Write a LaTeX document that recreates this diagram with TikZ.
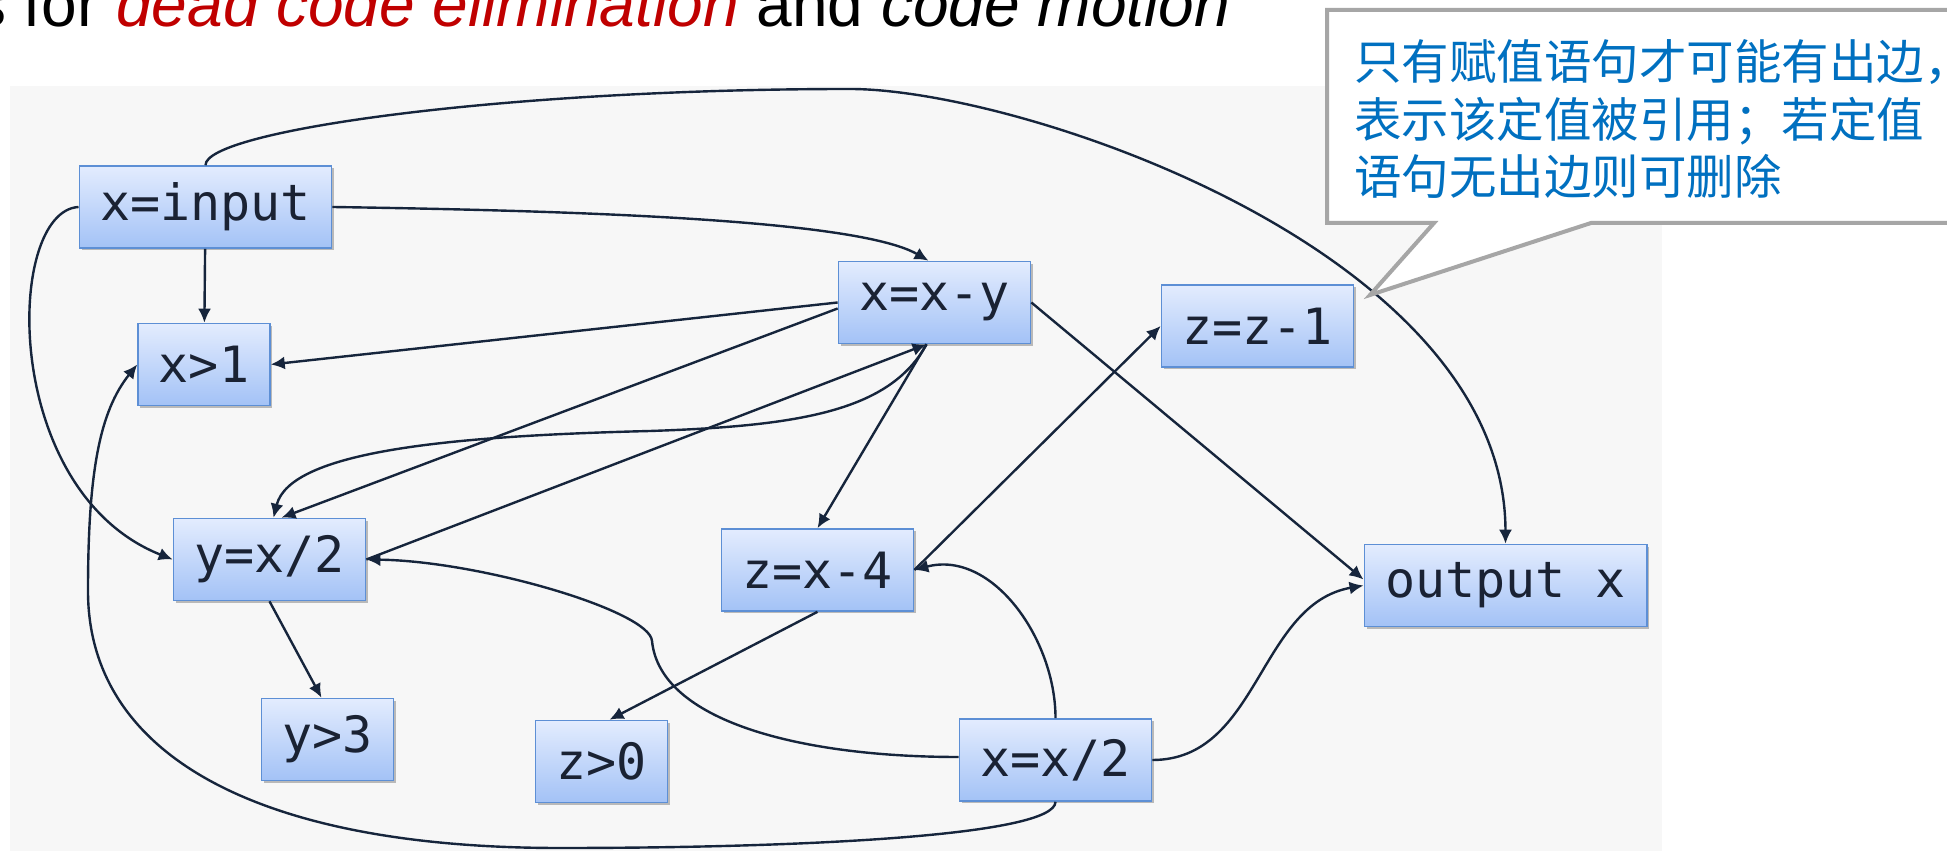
\documentclass[tikz,border=0pt]{standalone}
\usepackage{fontspec}
\setmainfont{Liberation Sans}
\newfontfamily\codefont{DejaVu Sans Mono}
\newfontfamily\cjk{Noto Sans CJK SC}
\usetikzlibrary{arrows.meta,shadows}
\definecolor{edgecol}{HTML}{16253C}
\definecolor{stmtline}{HTML}{5D8FD5}
\definecolor{stmttop}{HTML}{E3ECFE}
\definecolor{stmtbot}{HTML}{A3C2F6}
\definecolor{stmttext}{HTML}{1A2233}
\definecolor{panel}{HTML}{F7F7F7}
\definecolor{titlered}{HTML}{C00000}
\definecolor{notegray}{HTML}{A6A6A6}
\definecolor{noteblue}{HTML}{0070C0}

\begin{document}
\begin{tikzpicture}[x=0.5pt,y=0.5pt,
    stmt/.style={draw=stmtline,line width=0.8pt,top color=stmttop,bottom color=stmtbot,
        minimum height=41pt,inner xsep=10.4pt,inner ysep=0pt,text=stmttext,
        font=\codefont\fontsize{25}{30}\selectfont,
        drop shadow={shadow xshift=1.2pt,shadow yshift=-1.2pt,opacity=0.25,fill=black}},
    du/.style={draw=edgecol,line width=1.2pt,-{Latex[length=7pt,width=6.5pt]}},
    note/.style={anchor=base west,text=noteblue,font=\cjk\fontsize{23.75}{28.5}\selectfont}]
    \useasboundingbox (0,0) rectangle (1947,851);
    \clip (0,0) rectangle (1947,851);
    \fill[panel] (10,0) rectangle (1662,765);

    \node[anchor=base east,font=\fontsize{32}{38}\selectfont] (title) at (1237,824)
        {s for \textcolor{titlered}{\itshape dead code elimination} and {\itshape code motion}};

    % statements
    \node[stmt] (xin) at (205.5,644) {x=input};
    \node[stmt] (xg1) at (204,486.5) {x>1};
    \node[stmt] (xxy) at (934.5,548.5) {x=x-y};
    \node[stmt] (zz1) at (1257.5,525) {z=z-1};
    \node[stmt] (yx2) at (269.5,291.5) {y=x/2};
    \node[stmt] (zx4) at (817.5,281) {z=x-4};
    \node[stmt] (outx) at (1505.5,265.5) {output x};
    \node[stmt] (yg3) at (327.5,111.5) {y>3};
    \node[stmt] (zg0) at (601.5,89.5) {z>0};
    \node[stmt] (xx2) at (1055.5,91) {x=x/2};

    % du-chains
    \draw[du] (xin) -- (xg1);
    \draw[du] (xin.east) .. controls (600,640) and (860,630) .. ([xshift=-3pt]xxy.north);
    \draw[du] (xin.north) .. controls (205,720) and (500,762) .. (850,762)
        .. controls (1020,762) and (1505,600) .. (outx.north);
    \draw[du] (xin.west) .. controls (5,640) and (0,360) .. (yx2.west);
    \draw[du] (xxy.west) -- (xg1.east);
    \draw[du] ([yshift=-3pt]xxy.west) -- ([xshift=6pt]yx2.north);
    \draw[du] ([xshift=-4pt]xxy.south) .. controls (890,440) and (800,425) .. (650,420)
        .. controls (450,415) and (290,400) .. ([xshift=2pt]yx2.north);
    \draw[du] (yx2.east) -- ([xshift=-4pt]xxy.south);
    \draw[du] ([xshift=-4pt]xxy.south) -- (zx4.north);
    \draw[du] (xxy.east) -- ([yshift=3pt]outx.west);
    \draw[du] (yx2.south) -- ([xshift=-3pt]yg3.north);
    \draw[du] (zx4.east) -- (zz1.west);
    \draw[du] (zx4.south) -- ([xshift=4pt]zg0.north);
    \draw[du] (xx2.north) to[out=90,in=15] (zx4.east);
    \draw[du] ([yshift=1.5pt]xx2.west) .. controls (800,94) and (660,130) .. (652,210)
        .. controls (650,240) and (480,290) .. (yx2.east);
    \draw[du] (xx2.east) to[out=0,in=190] (outx.west);
    \draw[du] (xx2.south) .. controls (1055,15) and (800,3) .. (560,3)
        .. controls (250,3) and (88,100) .. (88,260)
        .. controls (88,380) and (100,440) .. (xg1.west);

    % callout
    \draw[notegray,fill=white,line width=2pt] (1327,628) -- (1434,628) -- (1370,556)
        -- (1591,628) -- (2000,628) -- (2000,841) -- (1327,841) -- cycle;
    \node[note] (note1) at (1347,771.5) {只有赋值语句才可能有出边，};
    \node[note] (note2) at (1347,713.5) {表示该定值被引用；若定值};
    \node[note] (note3) at (1347,656.5) {语句无出边则可删除};
\end{tikzpicture}
\end{document}
